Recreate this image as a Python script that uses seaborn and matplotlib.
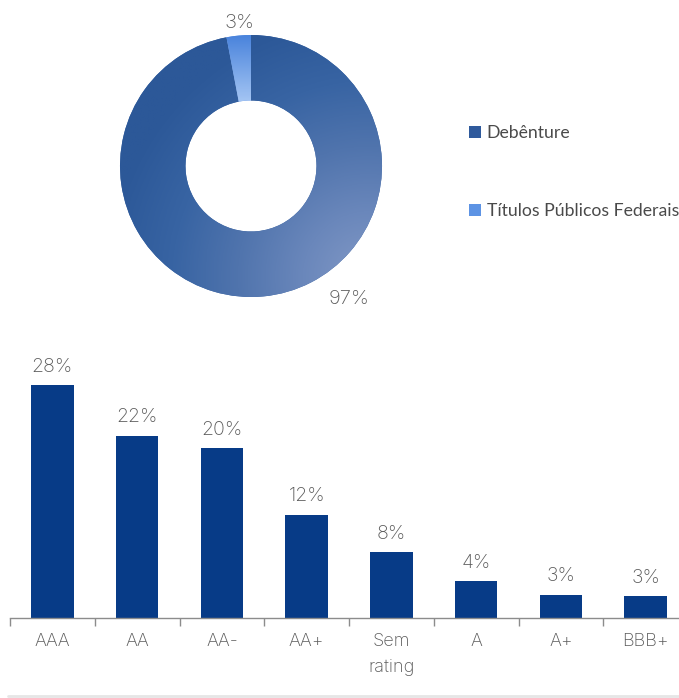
import numpy as np
import pandas as pd
import matplotlib
matplotlib.use("Agg")
import matplotlib.pyplot as plt
import seaborn as sns
from matplotlib.colors import LinearSegmentedColormap
from matplotlib.patches import Patch
from matplotlib.lines import Line2D

# ---- data ----
donut_labels = ["Debênture", "Títulos Públicos Federais"]
donut_values = [97, 3]

categories = ["AAA", "AA", "AA-", "AA+", "Sem\nrating", "A", "A+", "BBB+"]
values = [28.0, 21.9, 20.4, 12.4, 7.9, 4.4, 2.8, 2.6]
value_labels = ["28%", "22%", "20%", "12%", "8%", "4%", "3%", "3%"]

sns.set_theme(style="white")
plt.rcParams["font.family"] = ["Inter", "DejaVu Sans"]

TXT = "#5a5a5a"
BAR = "#073b87"
NUMFONT = dict(family=["Inter", "DejaVu Sans"], weight="light")

fig = plt.figure(figsize=(6.79, 6.98), dpi=100)
W, H = 679, 698

# ---- donut ----
cx, cy, r = 251, 166, 131
ax1 = fig.add_axes([(cx - r) / W, (H - cy - r) / H, 2 * r / W, 2 * r / H])
wedges, _ = ax1.pie(donut_values, startangle=90, counterclock=False,
                    radius=1, colors=["#3a64a3", "#6a9ae6"],
                    wedgeprops=dict(width=0.5, edgecolor="none"))
xx, yy = np.meshgrid(np.linspace(-1, 1, 300), np.linspace(1, -1, 300))
d = np.sqrt((xx - 0.9) ** 2 + (yy + 0.85) ** 2)
t1 = np.clip(d / 2.0, 0, 1)
cm1 = LinearSegmentedColormap.from_list(
    "d", ["#8299c6", "#6a87bb", "#5074ad", "#3864a3", "#2c5898"])
im1 = ax1.imshow(t1, extent=[-1, 1, -1, 1], cmap=cm1, vmin=0, vmax=1,
                 zorder=2, interpolation="bilinear")
im1.set_clip_path(wedges[0])
t2 = np.clip((1 - yy) / 0.5, 0, 1)
cm2 = LinearSegmentedColormap.from_list("t", ["#4a84dc", "#a3c4f3"])
im2 = ax1.imshow(t2, extent=[-1, 1, -1, 1], cmap=cm2, vmin=0, vmax=1,
                 zorder=2, interpolation="bilinear")
im2.set_clip_path(wedges[1])
ax1.set_xlim(-1, 1)
ax1.set_ylim(-1, 1)
ax1.set_aspect("auto")
ax1.axis("off")
ax1.text((239 - cx) / r, (cy - 23) / r, f"{donut_values[1]}%", ha="center",
         va="center", fontsize=14.5, color=TXT, clip_on=False, **NUMFONT)
ax1.text((349 - cx) / r, (cy - 299) / r, f"{donut_values[0]}%", ha="center",
         va="center", fontsize=14.5, color=TXT, clip_on=False, **NUMFONT)

handles = [Patch(facecolor="#2f5a9c", edgecolor="none"),
           Patch(facecolor="#5d93e4", edgecolor="none")]
leg = fig.legend(handles, donut_labels, loc="center left",
                 bbox_to_anchor=(469 / W, (H - 172) / H), frameon=False,
                 prop=dict(family=["Lato", "DejaVu Sans"], size=12.7),
                 labelcolor="#4a4a4a", handlelength=0.7,
                 handleheight=0.7, handletextpad=0.3, labelspacing=3.5,
                 borderpad=0, borderaxespad=0)

# ---- bars ----
base, top_px = 618, 352
ymax = 32
ax2 = fig.add_axes([10 / W, (H - base) / H, 678 / W, (base - top_px) / H])
df = pd.DataFrame({"cat": categories, "val": values})
sns.barplot(data=df, x="cat", y="val", color=BAR, width=0.5, ax=ax2,
            saturation=1, edgecolor="none")
ax2.set_xlim(-0.5, len(categories) - 0.5)
ax2.set_ylim(0, ymax)
for i, (v, lab) in enumerate(zip(values, value_labels)):
    ax2.annotate(lab, (i, v), xytext=(0, 7), textcoords="offset points",
                 ha="center", va="bottom", fontsize=14, color=TXT,
                 **NUMFONT)
for s in ["top", "right", "left"]:
    ax2.spines[s].set_visible(False)
ax2.spines["bottom"].set_color("#8c8c8c")
ax2.spines["bottom"].set_linewidth(1)
ax2.set_yticks([])
ax2.set_xlabel("")
ax2.set_ylabel("")
ax2.set_xticks(np.arange(-0.5, len(categories)), minor=True)
ax2.tick_params(axis="x", which="minor", length=6, width=1, color="#8c8c8c",
                bottom=True)
ax2.tick_params(axis="x", which="major", length=0, pad=11)
for lbl in ax2.get_xticklabels():
    lbl.set_fontsize(13)
    lbl.set_color(TXT)
    lbl.set_family(["Inter", "DejaVu Sans"])
    lbl.set_weight("light")
    lbl.set_linespacing(1.65)
ax2.set_facecolor("white")

fig.add_artist(Line2D([8 / W, 1], [2 / H, 2 / H], color="#e6e6e6", lw=2))

fig.savefig("out.png", dpi=100, facecolor="white")
